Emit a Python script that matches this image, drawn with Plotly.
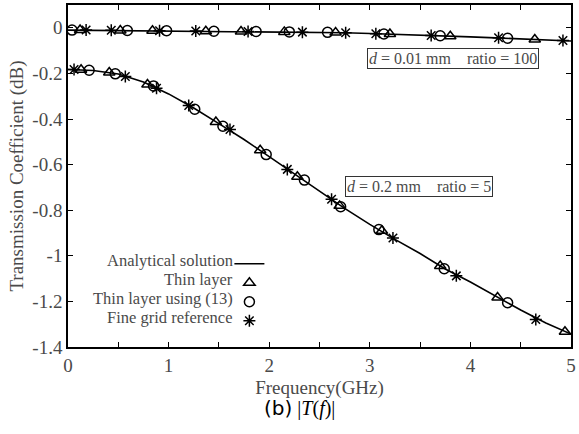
import plotly.graph_objects as go

# ---------------- data ----------------
# Analytical solution curves
f_line = [0, 0.25, 0.5, 0.75, 1.0, 1.25, 1.5, 1.75, 2.0, 2.25, 2.5, 2.75, 3.0,
          3.25, 3.5, 3.75, 4.0, 4.25, 4.5, 4.75, 5.0]
t_thin_line = [-0.010, -0.011, -0.012, -0.012, -0.013, -0.014, -0.015, -0.015,
               -0.017, -0.018, -0.020, -0.022, -0.025, -0.028, -0.032, -0.036,
               -0.040, -0.044, -0.048, -0.053, -0.058]
t_thick_line = [-0.183, -0.187, -0.203, -0.238, -0.290, -0.352, -0.420, -0.490,
                -0.565, -0.640, -0.716, -0.792, -0.862, -0.928, -0.990, -1.058,
                -1.115, -1.178, -1.238, -1.295, -1.343]

# d = 0.01 mm, ratio = 100
f_tri_a = [0.12, 0.52, 0.84, 1.37, 1.72, 2.15, 2.66, 3.20, 3.80, 4.64]
v_tri_a = [-0.010, -0.012, -0.013, -0.015, -0.016, -0.018, -0.021, -0.027, -0.037, -0.051]
f_cir_a = [0.04, 0.59, 0.98, 1.45, 1.87, 2.20, 2.58, 3.14, 3.70, 4.37]
v_cir_a = [-0.010, -0.012, -0.013, -0.015, -0.016, -0.018, -0.020, -0.027, -0.035, -0.046]
f_ast_a = [0.18, 0.43, 0.91, 1.27, 1.79, 2.33, 2.76, 3.06, 3.61, 4.28, 4.92]
v_ast_a = [-0.010, -0.011, -0.013, -0.014, -0.016, -0.019, -0.022, -0.026, -0.034, -0.044, -0.056]

# d = 0.2 mm, ratio = 5
f_tri_b = [0.13, 0.41, 0.79, 1.47, 1.91, 2.28, 2.70, 3.12, 3.70, 4.27, 4.94]
v_tri_b = [-0.184, -0.196, -0.249, -0.413, -0.537, -0.653, -0.781, -0.890, -1.045, -1.183, -1.333]
f_cir_b = [0.21, 0.47, 0.85, 1.26, 1.54, 1.97, 2.35, 2.71, 3.09, 3.74, 4.37]
v_cir_b = [-0.186, -0.202, -0.255, -0.357, -0.432, -0.556, -0.668, -0.785, -0.885, -1.057, -1.206]
f_ast_b = [0.06, 0.57, 0.88, 1.20, 1.61, 2.18, 2.62, 3.23, 3.86, 4.65]
v_ast_b = [-0.183, -0.214, -0.265, -0.341, -0.446, -0.621, -0.752, -0.922, -1.088, -1.279]

legend_labels = ["Analytical solution", "Thin layer", "Thin layer using (13)", "Fine grid reference"]
y_tickvals = [0, -0.2, -0.4, -0.6, -0.8, -1.0, -1.2, -1.4]
y_ticktext = ["0", "-0.2", "-0.4", "-0.6", "-0.8", "-1", "-1.2", "-1.4"]
x_tickvals = [0, 1, 2, 3, 4, 5]
x_ticktext = ["0", "1", "2", "3", "4", "5"]

# ---------------- layout geometry ----------------
W, H = 579, 434
ML, MR, MT, MB = 68, 3, 4, 87
PW, PH = W - ML - MR, H - MT - MB

def px(x):
    return (x - ML) / PW

def py(y):
    return (H - MB - y) / PH

SERIF = "Liberation Serif, Times New Roman, serif"
TXT = "#4a4a4a"

fig = go.Figure()

for fl, vl in [(f_line, t_thin_line), (f_line, t_thick_line)]:
    fig.add_trace(go.Scatter(x=fl, y=vl, mode="lines", name=legend_labels[0],
                             line=dict(color="black", width=1.6), showlegend=False))

mk = dict(size=10, color="black", line=dict(color="black", width=1.5))
for (fx, vy) in [(f_tri_a, v_tri_a), (f_tri_b, v_tri_b)]:
    fig.add_trace(go.Scatter(x=fx, y=vy, mode="markers", name=legend_labels[1], showlegend=False,
                             marker=dict(symbol="triangle-up-open", **mk)))
for (fx, vy) in [(f_cir_a, v_cir_a), (f_cir_b, v_cir_b)]:
    fig.add_trace(go.Scatter(x=fx, y=vy, mode="markers", name=legend_labels[2], showlegend=False,
                             marker=dict(symbol="circle-open", **mk)))
for (fx, vy) in [(f_ast_a, v_ast_a), (f_ast_b, v_ast_b)]:
    fig.add_trace(go.Scatter(x=fx, y=vy, mode="markers", name=legend_labels[3], showlegend=False,
                             marker=dict(symbol="asterisk-open", **mk)))

# legend symbols (text is drawn to their left as annotations)
fig.add_trace(go.Scatter(x=[None], y=[None], mode="lines", name=" ",
                         line=dict(color="black", width=1.6), showlegend=True))
fig.add_trace(go.Scatter(x=[None], y=[None], mode="markers", name=" ",
                         marker=dict(symbol="triangle-up-open", **mk), showlegend=True))
fig.add_trace(go.Scatter(x=[None], y=[None], mode="markers", name=" ",
                         marker=dict(symbol="circle-open", **mk), showlegend=True))
fig.add_trace(go.Scatter(x=[None], y=[None], mode="markers", name=" ",
                         marker=dict(symbol="asterisk-open", **mk), showlegend=True))

LEG_TOP = 249
fig.update_layout(
    width=W, height=H,
    margin=dict(l=ML, r=MR, t=MT, b=MB, pad=0),
    paper_bgcolor="white", plot_bgcolor="white",
    font=dict(family=SERIF, size=18, color=TXT),
    legend=dict(x=px(231), y=py(LEG_TOP), xanchor="left", yanchor="top",
                bgcolor="rgba(0,0,0,0)", borderwidth=0,
                font=dict(size=12), tracegroupgap=0, itemwidth=30),
    showlegend=True,
)

axis_common = dict(showline=True, linecolor="black", linewidth=1.5, mirror="ticks",
                   ticks="inside", ticklen=5, tickwidth=1.2, tickcolor="black",
                   showgrid=False, zeroline=False,
                   tickfont=dict(family=SERIF, size=19, color=TXT))

fig.update_xaxes(range=[0, 5], tickvals=x_tickvals, ticktext=x_ticktext,
                 minor=dict(dtick=0.5, ticks="inside", ticklen=5, tickwidth=1.2, tickcolor="black"),
                 title=dict(text="Frequency(GHz)", font=dict(family=SERIF, size=19, color=TXT), standoff=6),
                 **axis_common)
fig.update_yaxes(range=[-1.4, 0.1], tickvals=y_tickvals, ticktext=y_ticktext,
                 title=dict(text="Transmission Coefficient (dB)", font=dict(family=SERIF, size=19, color=TXT), standoff=4),
                 **axis_common)

# legend labels (right-aligned, symbols to their right)
for i, lab in enumerate(legend_labels):
    yc = 260 + i * 19
    fig.add_annotation(text=lab, xref="paper", yref="paper", x=px(236), y=py(yc),
                       xanchor="right", yanchor="middle", showarrow=False, borderpad=0,
                       font=dict(family=SERIF, size=16.5, color=TXT))

# boxed parameter labels
fig.add_annotation(text="<i>d</i> = 0.01 mm\u00a0\u00a0\u00a0\u00a0ratio = 100",
                   xref="paper", yref="paper", x=px(457), y=py(57.5),
                   xanchor="center", yanchor="middle", showarrow=False,
                   bordercolor="#333", borderwidth=1, borderpad=1, bgcolor="white",
                   font=dict(family=SERIF, size=16, color=TXT))
fig.add_annotation(text="<i>d</i> = 0.2 mm\u00a0\u00a0\u00a0\u00a0ratio = 5",
                   xref="paper", yref="paper", x=px(422), y=py(186.5),
                   xanchor="center", yanchor="middle", showarrow=False,
                   bordercolor="#333", borderwidth=1, borderpad=1, bgcolor="white",
                   font=dict(family=SERIF, size=16, color=TXT))

# caption
fig.add_annotation(text="<span style='font-family:DejaVu Sans'>(b)</span> |<i>T</i>(<i>f</i>)|",
                   xref="paper", yref="paper", x=px(302), y=py(408),
                   xanchor="center", yanchor="middle", showarrow=False,
                   font=dict(family=SERIF, size=20, color="black"))

fig.write_html("out.html")
